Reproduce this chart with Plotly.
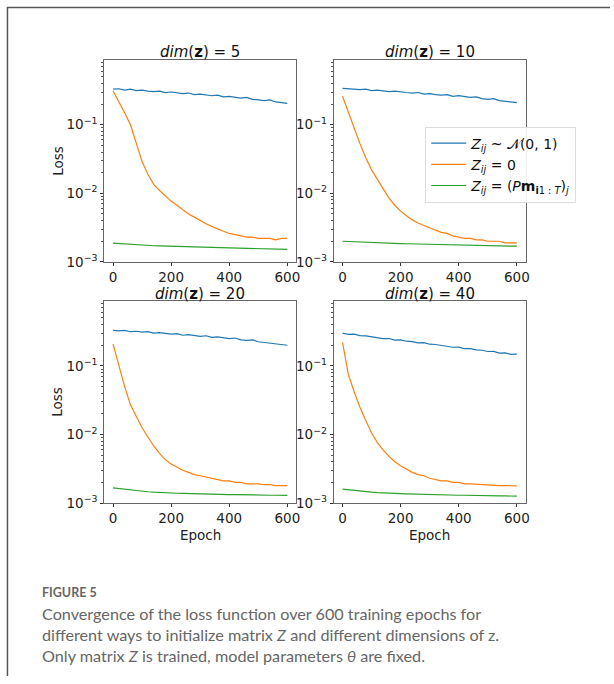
import plotly.graph_objects as go

# Training epochs at which the loss is shown
epochs = list(range(0, 601, 20))

# Loss curves, one list per initialisation, for each latent dimension
dims = [5, 10, 20, 40]

loss_normal = {
    5: [0.33, 0.335, 0.32, 0.33, 0.315, 0.32, 0.31, 0.305, 0.31, 0.295, 0.30, 0.29, 0.285, 0.29, 0.275, 0.28,
        0.27, 0.265, 0.27, 0.255, 0.26, 0.25, 0.245, 0.25, 0.235, 0.23, 0.225, 0.23, 0.215, 0.21, 0.205],
    10: [0.34, 0.335, 0.33, 0.325, 0.33, 0.315, 0.32, 0.31, 0.305, 0.31, 0.30, 0.295, 0.29, 0.295, 0.28, 0.285,
         0.275, 0.27, 0.275, 0.26, 0.265, 0.255, 0.25, 0.255, 0.24, 0.235, 0.24, 0.225, 0.22, 0.215, 0.21],
    20: [0.33, 0.325, 0.33, 0.315, 0.32, 0.31, 0.315, 0.30, 0.305, 0.295, 0.29, 0.295, 0.28, 0.285, 0.275, 0.27,
         0.275, 0.26, 0.265, 0.255, 0.25, 0.255, 0.24, 0.235, 0.24, 0.225, 0.22, 0.215, 0.21, 0.205, 0.20],
    40: [0.30, 0.289, 0.290, 0.276, 0.274, 0.266, 0.262, 0.250, 0.251, 0.238, 0.239, 0.229, 0.226, 0.217, 0.218,
         0.207, 0.205, 0.198, 0.196, 0.187, 0.188, 0.178, 0.179, 0.171, 0.169, 0.162, 0.163, 0.154, 0.155, 0.147, 0.148],
}

loss_zero = {
    5: [0.31, 0.22, 0.15, 0.10, 0.052, 0.029, 0.019, 0.0135, 0.011, 0.0092, 0.0077, 0.0067, 0.0058, 0.0050, 0.0045,
        0.0040, 0.0036, 0.0033, 0.0030, 0.0028, 0.0026, 0.0025, 0.0024, 0.0023, 0.0023, 0.0022, 0.0022, 0.0022,
        0.0021, 0.0022, 0.0022],
    10: [0.26, 0.15, 0.088, 0.053, 0.033, 0.022, 0.016, 0.0115, 0.0085, 0.0067, 0.0055, 0.0047, 0.0041, 0.0037,
         0.0034, 0.0031, 0.0029, 0.0027, 0.0026, 0.0024, 0.0023, 0.0022, 0.0022, 0.0021, 0.0021, 0.0020, 0.0020,
         0.0020, 0.0019, 0.0019, 0.0019],
    20: [0.21, 0.10, 0.050, 0.027, 0.018, 0.0125, 0.0092, 0.0068, 0.0053, 0.0043, 0.0037, 0.0033, 0.0030, 0.0028,
         0.0026, 0.0025, 0.0024, 0.0023, 0.0022, 0.0021, 0.0021, 0.0020, 0.0020, 0.0019, 0.0019, 0.0019, 0.00185,
         0.00185, 0.0018, 0.0018, 0.0018],
    40: [0.22, 0.075, 0.042, 0.025, 0.016, 0.0105, 0.0076, 0.0059, 0.0048, 0.0040, 0.0035, 0.0031, 0.0028, 0.0026,
         0.0025, 0.0023, 0.0022, 0.0021, 0.0021, 0.0020, 0.0020, 0.0019, 0.0019, 0.00187, 0.00185, 0.00183, 0.0018,
         0.0018, 0.00179, 0.00178, 0.00178],
}

loss_proj = {
    5: [0.00188, 0.00185, 0.00183, 0.00180, 0.00178, 0.00176, 0.00175, 0.00172, 0.00171, 0.00170, 0.00168, 0.00167,
        0.00168, 0.00165, 0.00164, 0.00165, 0.00162, 0.00161, 0.00160, 0.00159, 0.00158, 0.00157, 0.00158, 0.00156,
        0.00155, 0.00154, 0.00155, 0.00153, 0.00152, 0.00153, 0.00152],
    10: [0.00200, 0.00198, 0.00196, 0.00195, 0.00193, 0.00192, 0.00190, 0.00189, 0.00188, 0.00186, 0.00185, 0.00184,
         0.00183, 0.00182, 0.00181, 0.00180, 0.00179, 0.00178, 0.00178, 0.00177, 0.00176, 0.00175, 0.00175, 0.00174,
         0.00173, 0.00173, 0.00172, 0.00171, 0.00171, 0.00170, 0.00170],
    20: [0.00166, 0.00162, 0.00158, 0.00154, 0.00151, 0.00149, 0.00146, 0.00144, 0.00142, 0.00141, 0.00140, 0.00139,
         0.00138, 0.00137, 0.00137, 0.00136, 0.00135, 0.00135, 0.00134, 0.00134, 0.00133, 0.00133, 0.00132, 0.00132,
         0.00131, 0.00131, 0.00131, 0.00130, 0.00130, 0.00130, 0.00129],
    40: [0.00160, 0.00156, 0.00152, 0.00149, 0.00146, 0.00144, 0.00142, 0.00140, 0.00139, 0.00138, 0.00137, 0.00136,
         0.00135, 0.00134, 0.00134, 0.00133, 0.00132, 0.00132, 0.00131, 0.00131, 0.00130, 0.00130, 0.00129, 0.00129,
         0.00128, 0.00128, 0.00128, 0.00127, 0.00127, 0.00127, 0.00126],
}

series_names = [
    "<i>Z<sub>ij</sub></i> ~ 𝒩(0, 1)",
    "<i>Z<sub>ij</sub></i> = 0",
    "<i>Z<sub>ij</sub></i> = (<i>P</i><b>m</b><sub><b>i</b>1 : <i>T</i></sub>)<sub><i>j</i></sub>",
]
series_colors = ["#1f77b4", "#ff7f0e", "#2ca02c"]

x_ticks = [0, 200, 400, 600]
y_tickvals = [1e-3, 1e-2, 1e-1]
y_ticktext = ["10<sup>−3</sup>", "10<sup>−2</sup>", "10<sup>−1</sup>"]
y_minor = [m * 10.0 ** e for e in (-3, -2, -1) for m in range(2, 10)]

W, H = 614, 684


def px_x(v):
    return v / W


def px_y(v):
    return 1 - v / H


# panel boxes in pixels: (left, right, top, bottom)
boxes = [(105, 298, 61, 265), (336, 529, 61, 265), (105, 298, 305, 509), (336, 529, 305, 509)]

fig = go.Figure()
tick_font = dict(family="DejaVu Sans", size=13.5, color="#222")

for i, d in enumerate(dims):
    n = "" if i == 0 else str(i + 1)
    xa, ya = "x" + n, "y" + n
    for k, data in enumerate([loss_normal, loss_zero, loss_proj]):
        fig.add_trace(go.Scatter(
            x=epochs, y=data[d], mode="lines", xaxis=xa, yaxis=ya,
            line=dict(color=series_colors[k], width=1.2),
            name=series_names[k], legendgroup=str(k), showlegend=(i == 0),
        ))
    l, r, t, b = boxes[i]
    fig.layout["xaxis" + n] = dict(
        domain=[px_x(l), px_x(r)], anchor=ya, range=[-30, 630],
        tickvals=x_ticks, ticks="outside", ticklen=3, tickcolor="#333",
        showline=True, linecolor="#666", linewidth=1, mirror=True,
        showgrid=False, zeroline=False, tickfont=tick_font,
    )
    fig.layout["yaxis" + n] = dict(
        domain=[px_y(b), px_y(t)], anchor=xa, type="log", range=[-3, -0.06],
        tickvals=y_tickvals, ticktext=y_ticktext, ticks="outside", ticklen=3, tickcolor="#333",
        minor=dict(tickmode="array", tickvals=y_minor, ticks="outside", ticklen=2,
                   tickcolor="#555", showgrid=False),
        showline=True, linecolor="#666", linewidth=1, mirror=True,
        showgrid=False, zeroline=False, tickfont=tick_font,
    )
    fig.add_annotation(
        text=f"<i>dim</i>(<b>z</b>) = {d}", x=px_x((l + r) / 2), y=px_y(t - 8),
        xref="paper", yref="paper", xanchor="center", yanchor="middle", showarrow=False,
        font=dict(family="DejaVu Sans", size=15, color="#111"),
    )
    if i in (0, 2):
        fig.add_annotation(
            text="Loss", x=px_x(58), y=px_y((t + b) / 2), xref="paper", yref="paper",
            xanchor="center", yanchor="middle",
            textangle=-90, showarrow=False, font=dict(family="DejaVu Sans", size=13.5, color="#222"),
        )
    if i in (2, 3):
        fig.add_annotation(
            text="Epoch", x=px_x((l + r) / 2), y=px_y(541), xref="paper", yref="paper",
            xanchor="center", yanchor="middle",
            showarrow=False, font=dict(family="DejaVu Sans", size=13.5, color="#222"),
        )

# figure frame (left and top rules)
fig.add_shape(type="line", xref="paper", yref="paper", x0=px_x(7.5), x1=px_x(7.5), y0=0, y1=px_y(7),
              line=dict(color="#555", width=1.5))
fig.add_shape(type="line", xref="paper", yref="paper", x0=px_x(7), x1=1, y0=px_y(7.5), y1=px_y(7.5),
              line=dict(color="#555", width=1.5))

# caption
fig.add_annotation(
    text="<b>FIGURE 5</b>", x=px_x(40), y=px_y(600), xref="paper", yref="paper",
    xanchor="left", yanchor="middle", showarrow=False,
    font=dict(family="Lato", size=12.5, color="#666"),
)
caption_lines = [
    "Convergence of the loss function over 600 training epochs for",
    "different ways to initialize matrix <i>Z</i> and different dimensions of z.",
    "Only matrix <i>Z</i> is trained, model parameters <i>θ</i> are fixed.",
]
for j, line in enumerate(caption_lines):
    fig.add_annotation(
        text=line, x=px_x(40), y=px_y(621 + 21 * j), xref="paper", yref="paper",
        xanchor="left", yanchor="middle", showarrow=False,
        font=dict(family="Lato", size=16.2, color="#666"),
    )

fig.update_layout(
    width=W, height=H, margin=dict(l=0, r=0, t=0, b=0),
    paper_bgcolor="white", plot_bgcolor="white",
    legend=dict(
        x=px_x(428), y=px_y(128), xanchor="left", yanchor="top",
        bgcolor="rgba(255,255,255,0.9)", bordercolor="#ddd", borderwidth=1,
        font=dict(family="DejaVu Sans", size=14, color="#111"),
        tracegroupgap=0, itemwidth=35,
    ),
)

fig.write_html("out.html")
